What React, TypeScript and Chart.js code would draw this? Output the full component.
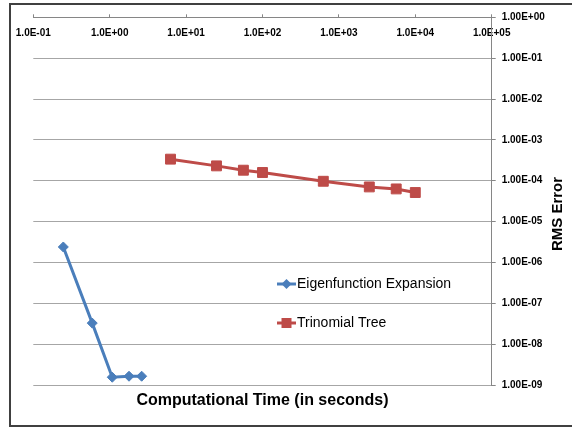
import React, { useEffect, useRef } from 'react';
import { Chart, registerables } from 'chart.js';

Chart.register(...registerables);

const seriesNames = ['Eigenfunction Expansion', 'Trinomial Tree'];
const eigenTime = [0.247, 0.591, 1.08, 1.79, 2.62];
const eigenError = [2.39e-6, 3.27e-8, 1.55e-9, 1.64e-9, 1.64e-9];
const treeTime = [6.25, 25, 56.25, 100, 625, 2500, 5625, 10000];
const treeError = [3.37e-4, 2.31e-4, 1.81e-4, 1.59e-4, 9.7e-5, 7.05e-5, 6.3e-5, 5.14e-5];
const xTicks = [1e-1, 1e0, 1e1, 1e2, 1e3, 1e4, 1e5];
const yTicks = [1e-9, 1e-8, 1e-7, 1e-6, 1e-5, 1e-4, 1e-3, 1e-2, 1e-1, 1e0];
const xTitle = 'Computational Time (in seconds)';
const yTitle = 'RMS Error';

const FONT = "'Liberation Sans', Arial, sans-serif";
const BLUE = '#4A7EBB';
const RED = '#BE4B48';

function sci(v: number, digits: number): string {
  const e = Math.round(Math.log10(v));
  const m = v / Math.pow(10, e);
  const sign = e < 0 ? '-' : '+';
  return m.toFixed(digits) + 'E' + sign + String(Math.abs(e)).padStart(2, '0');
}

const overlayPlugin = {
  id: 'overlay',
  afterDraw(chart: any) {
    const ctx = chart.ctx as CanvasRenderingContext2D;
    // y-axis title (reads bottom to top)
    ctx.save();
    ctx.translate(558, 214);
    ctx.rotate(-Math.PI / 2);
    ctx.font = `bold 15px ${FONT}`;
    ctx.fillStyle = '#000';
    ctx.textAlign = 'center';
    ctx.textBaseline = 'middle';
    ctx.fillText(yTitle, 0, 0);
    ctx.restore();

    // legend inside plot
    const rows = [284, 323];
    chart.data.datasets.forEach((ds: any, i: number) => {
      const y = rows[i];
      ctx.save();
      ctx.strokeStyle = ds.borderColor;
      ctx.fillStyle = ds.backgroundColor;
      ctx.lineWidth = 3;
      ctx.beginPath();
      ctx.moveTo(277, y);
      ctx.lineTo(296, y);
      ctx.stroke();
      const cx = 286.5;
      ctx.beginPath();
      if (ds.pointStyle === 'rectRot') {
        const r = 5;
        ctx.moveTo(cx, y - r);
        ctx.lineTo(cx + r, y);
        ctx.lineTo(cx, y + r);
        ctx.lineTo(cx - r, y);
        ctx.closePath();
      } else {
        const h = 5;
        ctx.rect(cx - h, y - h, 2 * h, 2 * h);
      }
      ctx.fill();
      ctx.font = `14px ${FONT}`;
      ctx.fillStyle = '#000';
      ctx.textAlign = 'left';
      ctx.textBaseline = 'middle';
      ctx.fillText(ds.label, 297, y);
      ctx.restore();
    });
  },
};

export default function App() {
  const ref = useRef<HTMLCanvasElement | null>(null);

  useEffect(() => {
    if (!ref.current) return;
    const tickFont = { family: FONT, size: 10, weight: 'bold' as const };
    const chart = new Chart(ref.current, {
      type: 'scatter',
      data: {
        datasets: [
          {
            label: seriesNames[0],
            data: eigenTime.map((x, i) => ({ x, y: eigenError[i] })),
            borderColor: BLUE,
            backgroundColor: BLUE,
            borderWidth: 3,
            showLine: true,
            pointStyle: 'rectRot',
            pointRadius: 5,
            pointBorderWidth: 1,
            xAxisID: 'x',
            yAxisID: 'y',
          },
          {
            label: seriesNames[1],
            data: treeTime.map((x, i) => ({ x, y: treeError[i] })),
            borderColor: RED,
            backgroundColor: RED,
            borderWidth: 3,
            showLine: true,
            pointStyle: 'rect',
            pointRadius: 7,
            pointBorderWidth: 1,
            xAxisID: 'x',
            yAxisID: 'y',
          },
        ],
      },
      options: {
        responsive: false,
        animation: false,
        devicePixelRatio: 1,
        layout: { padding: { left: 33.3, right: 0, top: 0, bottom: 0 } },
        plugins: {
          legend: { display: false },
          tooltip: { enabled: false },
        },
        scales: {
          x: {
            type: 'logarithmic',
            position: 'top',
            min: 0.1,
            max: 1e5,
            afterBuildTicks: (s: any) => {
              s.ticks = xTicks.map((v) => ({ value: v, major: true }));
            },
            afterFit: (s: any) => {
              s.height = 17.3;
            },
            grid: { drawOnChartArea: false, drawTicks: true, tickLength: 3, color: '#868686' },
            border: { display: true, color: '#868686', width: 1 },
            ticks: {
              autoSkip: false,
              maxRotation: 0,
              minRotation: 0,
              mirror: true,
              padding: 9.7,
              color: '#000',
              font: tickFont,
              callback: (v: any) => sci(Number(v), 1),
            },
          },
          x2: {
            type: 'logarithmic',
            position: 'bottom',
            min: 0.1,
            max: 1e5,
            grid: { display: false },
            border: { display: false },
            ticks: { display: false },
            afterFit: (s: any) => {
              s.height = 42;
            },
            title: {
              display: true,
              text: xTitle,
              color: '#000',
              font: { family: FONT, size: 16, weight: 'bold' },
              padding: { top: 0, bottom: 17 },
            },
          },
          y: {
            type: 'logarithmic',
            position: 'right',
            min: 1e-9,
            max: 1,
            afterBuildTicks: (s: any) => {
              s.ticks = yTicks.map((v) => ({ value: v, major: true }));
            },
            afterFit: (s: any) => {
              s.width = 80.3;
            },
            grid: { color: '#a6a6a6', drawTicks: true, tickLength: 4, tickColor: '#868686' },
            border: { display: true, color: '#868686', width: 1 },
            ticks: {
              autoSkip: false,
              padding: 6,
              color: '#000',
              font: tickFont,
              callback: (v: any) => sci(Number(v), 2),
            },
          },
        },
      },
      plugins: [overlayPlugin],
    });
    return () => chart.destroy();
  }, []);

  return (
    <div
      style={{
        position: 'fixed',
        left: 0,
        top: 0,
        width: 572,
        height: 427,
        overflow: 'hidden',
        background: '#fff',
      }}
    >
      <div
        style={{
          position: 'absolute',
          left: 9,
          top: 3,
          width: 620,
          height: 424,
          border: '2px solid #404040',
          boxSizing: 'border-box',
        }}
      />
      <canvas ref={ref} width={572} height={427} style={{ position: 'absolute', left: 0, top: 0 }} />
    </div>
  );
}
